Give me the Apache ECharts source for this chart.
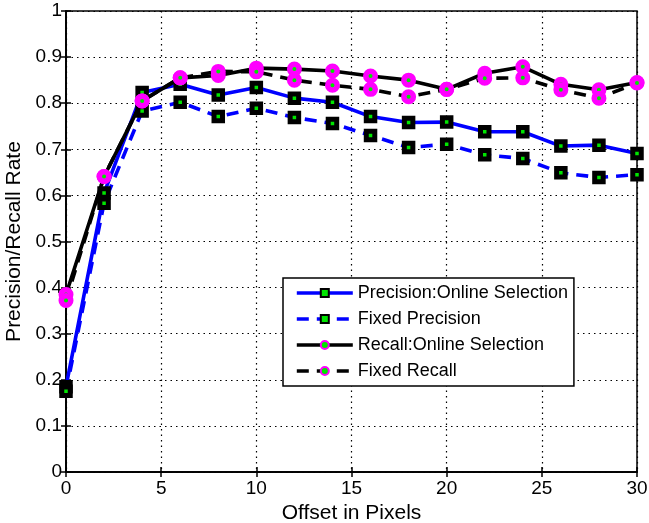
<!DOCTYPE html>
<html>
<head>
<meta charset="utf-8">
<script src="https://cdn.jsdelivr.net/npm/echarts@6/dist/echarts.min.js"></script>
<style>html,body{margin:0;padding:0;background:#fff;}#c{width:649px;height:523px;}</style>
</head>
<body>
<div id="c"></div>
<script>
var offsets = [0, 2, 4, 6, 8, 10, 12, 14, 16, 18, 20, 22, 24, 26, 28, 30];
var precisionOnline = [0.185, 0.605, 0.823, 0.841, 0.818, 0.834, 0.811, 0.802, 0.771, 0.758, 0.759, 0.738, 0.738, 0.707, 0.709, 0.691];
var fixedPrecision  = [0.175, 0.583, 0.783, 0.802, 0.771, 0.789, 0.769, 0.756, 0.730, 0.704, 0.711, 0.688, 0.680, 0.649, 0.639, 0.645];
var recallOnline    = [0.385, 0.641, 0.805, 0.855, 0.860, 0.876, 0.874, 0.870, 0.859, 0.850, 0.830, 0.865, 0.879, 0.841, 0.829, 0.845];
var fixedRecall     = [0.372, 0.641, 0.805, 0.855, 0.869, 0.868, 0.850, 0.839, 0.830, 0.814, 0.830, 0.854, 0.855, 0.829, 0.811, 0.844];
var seriesNames = ['Precision:Online Selection', 'Fixed Precision', 'Recall:Online Selection', 'Fixed Recall'];
var yTicks = [0, 0.1, 0.2, 0.3, 0.4, 0.5, 0.6, 0.7, 0.8, 0.9, 1];

function pairs(vals) { return offsets.map(function (x, i) { return [x, vals[i]]; }); }

var FONT = 'Liberation Sans, Arial, sans-serif';
var chart = echarts.init(document.getElementById('c'), null, { renderer: 'canvas' });

function sq(name, vals, dashed) {
  return {
    name: name, type: 'line', data: pairs(vals),
    symbol: 'rect', symbolSize: 8.5,
    showAllSymbol: true,
    lineStyle: { color: '#0000ff', width: 3.6, type: dashed ? [12, 8] : 'solid' },
    itemStyle: { color: '#00e600', borderColor: '#000', borderWidth: 5 },
    emphasis: { disabled: true }, animation: false
  };
}
function ci(name, vals, dashed) {
  return {
    name: name, type: 'line', data: pairs(vals),
    symbol: 'circle', symbolSize: 9.5,
    showAllSymbol: true,
    lineStyle: { color: '#000', width: 3.6, type: dashed ? [12, 8] : 'solid' },
    itemStyle: { color: '#00e600', borderColor: '#ff00ff', borderWidth: 5.5 },
    emphasis: { disabled: true }, animation: false
  };
}

var axisLine = { show: true, lineStyle: { color: '#000', width: 1.5 } };
var split = { show: true, lineStyle: { color: '#000', type: [1.5, 4], width: 1.2 } };
var tick = { show: true, inside: true, length: 5, lineStyle: { color: '#000', width: 1.5 } };

chart.setOption({
  animation: false,
  backgroundColor: '#fff',
  grid: { left: 66, right: 12, top: 11, bottom: 51, show: true, borderColor: '#000', borderWidth: 1.5,
    containLabel: false, outerBoundsMode: 'none' },
  legend: {
    orient: 'vertical', left: 283, top: 278,
    backgroundColor: '#fff', borderColor: '#000', borderWidth: 1.5,
    padding: [6, 6, 6, 12], itemGap: 8, itemWidth: 56, itemHeight: 10,
    lineStyle: { width: 3.6 },
    textStyle: { fontFamily: FONT, fontSize: 18, color: '#000' },
    data: seriesNames
  },
  xAxis: [{
    type: 'value', min: 0, max: 30, interval: 5,
    name: 'Offset in Pixels', nameLocation: 'middle', nameGap: 28,
    nameTextStyle: { fontFamily: FONT, fontSize: 21, color: '#000' },
    axisLine: axisLine, axisTick: tick,
    axisLabel: { fontFamily: FONT, fontSize: 19, color: '#000', margin: 7 },
    splitLine: split
  }, {
    type: 'value', min: 0, max: 30, interval: 5, position: 'top',
    axisLine: axisLine, axisTick: tick,
    axisLabel: { show: false }, splitLine: { show: false }
  }],
  yAxis: [{
    type: 'value', min: 0, max: 1, interval: 0.1,
    name: 'Precision/Recall Rate', nameLocation: 'middle', nameGap: 34,
    nameTextStyle: { fontFamily: FONT, fontSize: 21, color: '#000' },
    axisLine: axisLine, axisTick: tick,
    axisLabel: { fontFamily: FONT, fontSize: 19, color: '#000', margin: 4,
      formatter: function (v) { var r = Math.round(v * 10) / 10; return yTicks.indexOf(r) >= 0 ? String(r) : ''; } },
    splitLine: split
  }, {
    type: 'value', min: 0, max: 1, interval: 0.1, position: 'right',
    axisLine: axisLine, axisTick: tick,
    axisLabel: { show: false }, splitLine: { show: false }
  }],
  series: [
    sq(seriesNames[0], precisionOnline, false),
    sq(seriesNames[1], fixedPrecision, true),
    ci(seriesNames[2], recallOnline, false),
    ci(seriesNames[3], fixedRecall, true)
  ]
});
</script>
</body>
</html>
